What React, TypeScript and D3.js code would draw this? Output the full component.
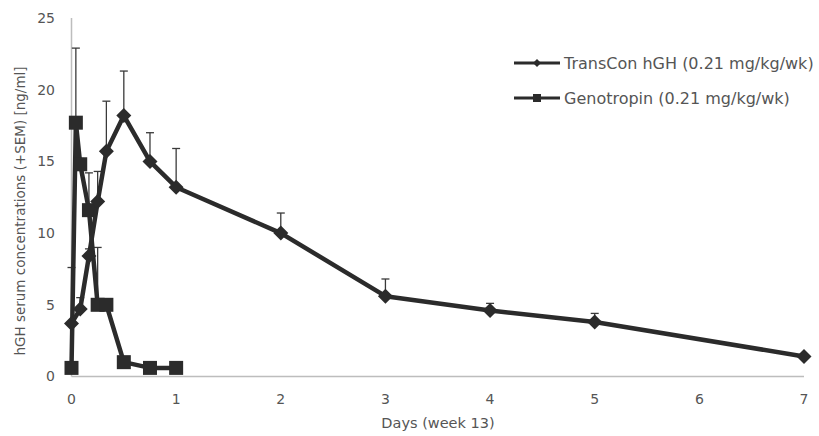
import React from "react";
import * as d3 from "d3";

const transconTimes = [0, 2 / 24, 4 / 24, 6 / 24, 8 / 24, 12 / 24, 18 / 24, 1, 2, 3, 4, 5, 7];
const transconValues = [3.7, 4.7, 8.4, 12.2, 15.7, 18.2, 15.0, 13.2, 10.0, 5.6, 4.6, 3.8, 1.4];
const transconUpper = [7.6, 5.5, 8.9, 14.3, 19.2, 21.3, 17.0, 15.9, 11.4, 6.8, 5.1, 4.4, 1.4];

const genoTimes = [0, 1 / 24, 2 / 24, 4 / 24, 6 / 24, 8 / 24, 12 / 24, 18 / 24, 1];
const genoValues = [0.6, 17.7, 14.8, 11.6, 5.0, 5.0, 1.0, 0.6, 0.6];
const genoUpper = [0.6, 22.9, 15.2, 14.2, 9.0, 5.3, 1.2, 0.7, 0.7];

const xTicks = [0, 1, 2, 3, 4, 5, 6, 7];
const yTicks = [0, 5, 10, 15, 20, 25];

const legendLabels = ["TransCon hGH (0.21 mg/kg/wk)", "Genotropin (0.21 mg/kg/wk)"];
const xTitle = "Days (week 13)";
const yTitle = "hGH serum concentrations  (+SEM) [ng/ml]";

const W = 819;
const H = 436;
const FONT = "DejaVu Sans, sans-serif";
const TEXT = "#555";
const INK = "#2b2b2b";

export default function App() {
  const x = d3.scaleLinear().domain([0, 7]).range([71.5, 804]);
  const y = d3.scaleLinear().domain([0, 25]).range([376.5, 18]);

  const line = d3
    .line<[number, number]>()
    .x((d) => x(d[0]))
    .y((d) => y(d[1]));

  const tc: [number, number][] = transconTimes.map((t, i) => [t, transconValues[i]]);
  const gn: [number, number][] = genoTimes.map((t, i) => [t, genoValues[i]]);

  const diamond = (cx: number, cy: number, r: number) =>
    `M${cx},${cy - r}L${cx + r},${cy}L${cx},${cy + r}L${cx - r},${cy}Z`;

  const errBar = (t: number, v: number, u: number, key: string) => {
    if (u - v < 0.15) return null;
    const cx = x(t);
    return (
      <g key={key} stroke="#3a3a3a" strokeWidth={1.3}>
        <line x1={cx} x2={cx} y1={y(v)} y2={y(u)} />
        <line x1={cx - 4} x2={cx + 4} y1={y(u)} y2={y(u)} />
      </g>
    );
  };

  return (
    <svg width={W} height={H} style={{ position: "absolute", left: 0, top: 0, background: "#fff" }}>
      {/* axes */}
      <line x1={x(0)} x2={x(0)} y1={y(0)} y2={y(25)} stroke="#bdbdbd" strokeWidth={1.5} />
      <line x1={x(0)} x2={x(7)} y1={y(0)} y2={y(0)} stroke="#bdbdbd" strokeWidth={1.5} />

      {yTicks.map((v) => (
        <text key={"y" + v} x={55} y={y(v)} dy="0.35em" textAnchor="end" fontFamily={FONT} fontSize={14} fill={TEXT}>
          {v}
        </text>
      ))}
      {xTicks.map((v) => (
        <text key={"x" + v} x={x(v)} y={399} dy="0.35em" textAnchor="middle" fontFamily={FONT} fontSize={14} fill={TEXT}>
          {v}
        </text>
      ))}
      <text x={438} y={428} textAnchor="middle" fontFamily={FONT} fontSize={14.5} fill={TEXT}>
        {xTitle}
      </text>
      <text
        transform={`translate(25,211) rotate(-90)`}
        textAnchor="middle"
        fontFamily={FONT}
        fontSize={13.5}
        fill={TEXT}
      >
        {yTitle}
      </text>

      {/* error bars */}
      {genoTimes.map((t, i) => errBar(t, genoValues[i], genoUpper[i], "ge" + i))}
      {transconTimes.map((t, i) => errBar(t, transconValues[i], transconUpper[i], "te" + i))}

      {/* Genotropin */}
      <path d={line(gn) || ""} fill="none" stroke={INK} strokeWidth={4.5} strokeLinejoin="round" />
      {gn.map((d, i) => (
        <rect key={"gs" + i} x={x(d[0]) - 7} y={y(d[1]) - 7} width={14} height={14} fill={INK} />
      ))}

      {/* TransCon */}
      <path d={line(tc) || ""} fill="none" stroke={INK} strokeWidth={4.5} strokeLinejoin="round" />
      {tc.map((d, i) => (
        <path key={"td" + i} d={diamond(x(d[0]), y(d[1]), 7.5)} fill={INK} />
      ))}

      {/* legend */}
      <g>
        <line x1={514} x2={560} y1={63} y2={63} stroke={INK} strokeWidth={3} />
        <path d={diamond(537, 63, 4)} fill={INK} />
        <text x={564} y={63} dy="0.35em" fontFamily={FONT} fontSize={16} fill={TEXT}>
          {legendLabels[0]}
        </text>
        <line x1={514} x2={560} y1={98} y2={98} stroke={INK} strokeWidth={3} />
        <rect x={533} y={94} width={8} height={8} fill={INK} />
        <text x={564} y={98} dy="0.35em" fontFamily={FONT} fontSize={16} fill={TEXT}>
          {legendLabels[1]}
        </text>
      </g>
    </svg>
  );
}
